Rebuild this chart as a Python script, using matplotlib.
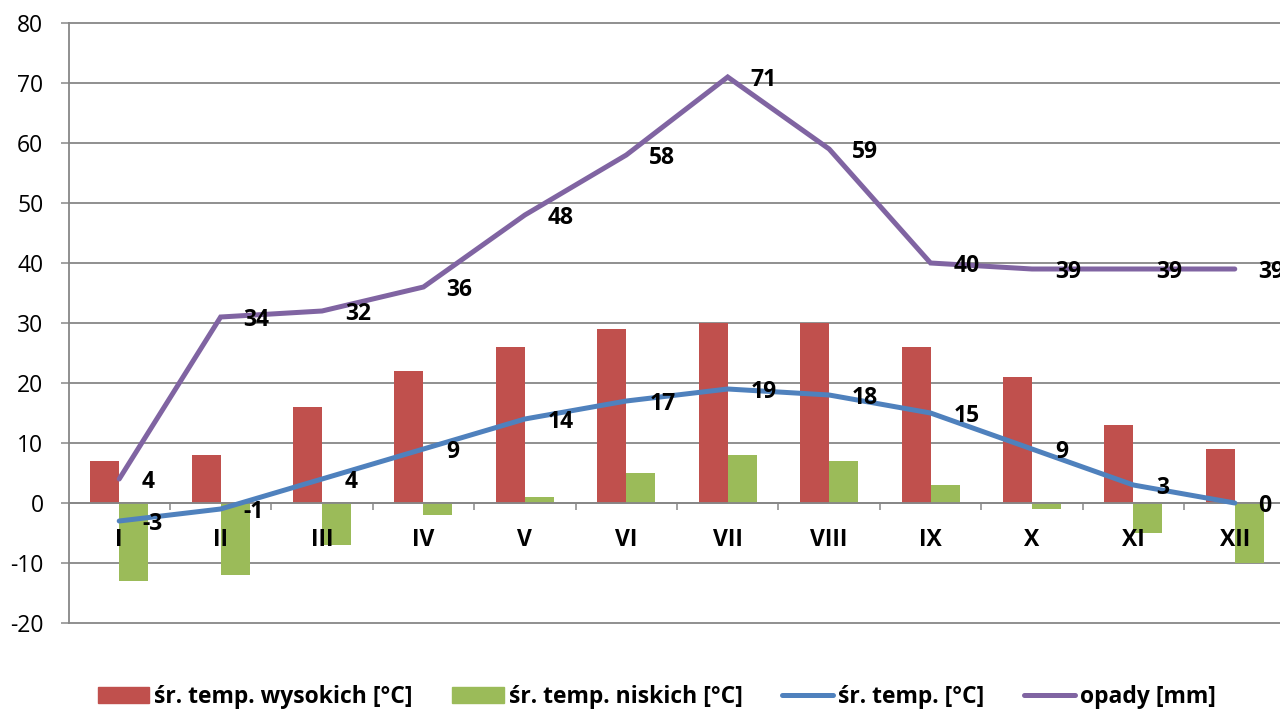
import matplotlib
matplotlib.use("Agg")
import matplotlib.pyplot as plt
import numpy as np
from matplotlib.patches import Patch
from matplotlib.lines import Line2D

plt.rcParams['font.family'] = ['Open Sans', 'DejaVu Sans']

months = ['I', 'II', 'III', 'IV', 'V', 'VI', 'VII', 'VIII', 'IX', 'X', 'XI', 'XII']
temp_high = [7, 8, 16, 22, 26, 29, 30, 30, 26, 21, 13, 9]
temp_low = [-13, -12, -7, -2, 1, 5, 8, 7, 3, -1, -5, -10]
temp_avg = [-3, -1, 4, 9, 14, 17, 19, 18, 15, 9, 3, 0]
precip = [4, 31, 32, 36, 48, 58, 71, 59, 40, 39, 39, 39]
precip_labels = ['4', '34', '32', '36', '48', '58', '71', '59', '40', '39', '39', '39']
y_ticks = list(range(-20, 81, 10))

series_names = ['śr. temp. wysokich [°C]', 'śr. temp. niskich [°C]',
                'śr. temp. [°C]', 'opady [mm]']
c_red, c_green, c_blue, c_purple = '#C0504D', '#9BBB59', '#4F81BD', '#8064A2'
grid_c = '#878787'

W, H = 1280, 709
fig = plt.figure(figsize=(W / 100, H / 100), dpi=100)
ax = fig.add_axes([68.5 / W, (H - 623) / H, 1217 / W, 600 / H])

x = np.arange(len(months))
bw = 0.286
ax.bar(x - bw / 2, temp_high, width=bw, color=c_red, zorder=2)
ax.bar(x + bw / 2, temp_low, width=bw, color=c_green, zorder=2)
ax.plot(x, temp_avg, color=c_blue, lw=3.6, zorder=3, solid_joinstyle='round',
        solid_capstyle='round')
ax.plot(x, precip, color=c_purple, lw=3.6, zorder=3, solid_joinstyle='miter',
        solid_capstyle='round')

FS = 16.5
lbl_kw = dict(textcoords='offset points', xytext=(16.5, 0), ha='left',
              va='center_baseline', fontsize=FS, fontweight='bold', color='black',
              zorder=5)
for xi, v in zip(x, temp_avg):
    ax.annotate(str(v), (xi, v), **lbl_kw)
for xi, v, t in zip(x, precip, precip_labels):
    ax.annotate(t, (xi, v), **lbl_kw)

# category labels (drawn above the bars)
for xi, m in zip(x, months):
    ax.annotate(m, (xi, 0), textcoords='offset points', xytext=(0, -24.5),
                ha='center', va='center_baseline', fontsize=FS, fontweight='bold',
                color='black', zorder=6)

ax.set_xlim(-0.5, len(months) - 0.5)
ax.set_ylim(-20, 80)
ax.set_yticks(y_ticks)
ax.set_yticklabels([str(t) for t in y_ticks], fontsize=FS)
ax.tick_params(axis='y', length=6, width=1.1, color=grid_c, pad=12)
ax.yaxis.grid(True, color=grid_c, lw=1.3, zorder=0)
ax.set_axisbelow(True)
for gl in ax.get_ygridlines():
    gl.set_clip_on(False)

ax.spines['bottom'].set_position(('data', 0))
ax.spines['bottom'].set_color(grid_c)
ax.spines['bottom'].set_linewidth(1.3)
ax.spines['left'].set_color(grid_c)
ax.spines['left'].set_linewidth(1.3)
ax.spines['top'].set_visible(False)
ax.spines['right'].set_visible(False)
ax.set_xticks(np.arange(-0.5, len(months), 1.0))
ax.set_xticklabels([])
ax.tick_params(axis='x', which='major', length=5, width=1.1, color=grid_c,
               direction='out')

handles = [Patch(color=c_red), Patch(color=c_green),
           Line2D([], [], color=c_blue, lw=3.6, solid_capstyle='round'),
           Line2D([], [], color=c_purple, lw=3.6, solid_capstyle='round')]
fig.legend(handles, series_names, loc='center', bbox_to_anchor=(657 / W, 1 - 697 / H),
           ncol=4, frameon=False, prop={'size': FS, 'weight': 'bold'},
           handlelength=2.23, handleheight=0.655, handletextpad=0.22,
           columnspacing=1.72, borderpad=0, borderaxespad=0)

fig.savefig('out.png', dpi=100)
